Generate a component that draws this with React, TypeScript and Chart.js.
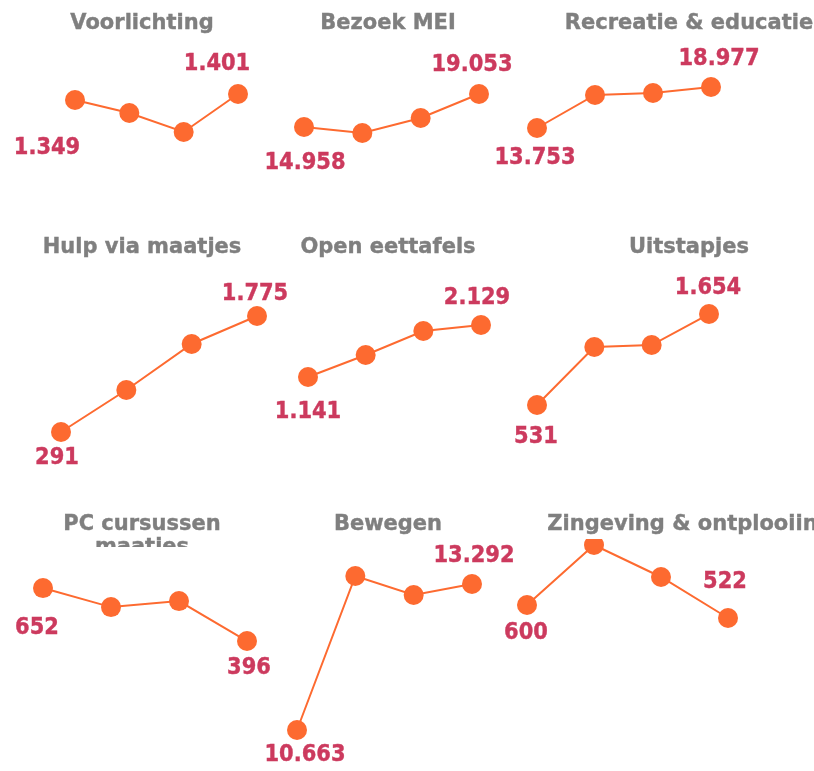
import React, { useEffect, useRef } from "react";
import { Chart, registerables } from "chart.js";

Chart.register(...registerables);

// ---- data ----
const categories = ["1", "2", "3", "4"];

const titles: string[][] = [
  ["Voorlichting"],
  ["Bezoek MEI"],
  ["Recreatie & educatie"],
  ["Hulp via maatjes"],
  ["Open eettafels"],
  ["Uitstapjes"],
  ["PC cursussen", "maatjes"],
  ["Bewegen"],
  ["Zingeving & ontplooiing"],
];

const voorlichting = [1349, 1236, 1072, 1401];
const bezoekMei = [14958, 14213, 16075, 19053];
const recreatieEducatie = [13753, 17957, 18212, 18977];
const hulpViaMaatjes = [291, 828, 1417, 1775];
const openEettafels = [1141, 1559, 2015, 2129];
const uitstapjes = [531, 1247, 1271, 1654];
const pcCursussen = [652, 560, 589, 396];
const bewegen = [10663, 13436, 13094, 13292];
const zingeving = [600, 960, 768, 522];

const series = [
  voorlichting,
  bezoekMei,
  recreatieEducatie,
  hulpViaMaatjes,
  openEettafels,
  uitstapjes,
  pcCursussen,
  bewegen,
  zingeving,
];

// per-panel value-axis ranges
const yMins = [742, 9622, 8402, -67, -436, -148, -82, 10483, -210];
const yMaxs = [1696, 23273, 22416, 2235, 2984, 2074, 889, 14102, 996];

// ---- layout (page pixels) ----
const PAGE_W = 814;
const PAGE_H = 771;
const rowPlotTop = [60, 280, 539];
const rowPlotBottom = [170, 460, 740];
const rowTitleY = [23, 247, 524];

const xFirst = [75, 304, 537, 61, 308, 537, 43, 297, 527];
const xLast = [238, 479, 711, 257, 481, 709, 247, 472, 728];
const titleX = [142, 388, 689, 142, 388, 689, 142, 388, 690];
const titleClipY = [225, 225, 225, 500, 500, 500, 547, 771, 771];

// label offsets from the first / last point
const firstOffset = [
  [-28, 48], [1, 36], [-2, 30],
  [-4, 26], [0, 35], [-1, 32],
  [-6, 40], [8, 25], [-1, 28],
];
const lastOffset = [
  [-21, -30], [-7, -29], [8, -28],
  [-2, -22], [-4, -27], [-1, -26],
  [2, 27], [2, -28], [-3, -36],
];

const ORANGE = "#fd6a30";
const LABEL = "#cc3a5e";
const TITLE = "#7f7f7f";
const FONT = "bold 21px 'DejaVu Sans', Verdana, sans-serif";

const fmt = (n: number) =>
  String(n).replace(/\B(?=(\d{3})+(?!\d))/g, ".");

function drawText(
  ctx: CanvasRenderingContext2D,
  text: string,
  x: number,
  y: number,
  color: string,
  sy: number
) {
  ctx.save();
  ctx.translate(x, y);
  ctx.scale(1, sy);
  ctx.font = FONT;
  ctx.textAlign = "center";
  ctx.textBaseline = "middle";
  ctx.fillStyle = color;
  ctx.strokeStyle = color;
  ctx.lineWidth = 0.4;
  ctx.fillText(text, 0, 0);
  ctx.strokeText(text, 0, 0);
  ctx.restore();
}

function Panel({ idx }: { idx: number }) {
  const ref = useRef<HTMLCanvasElement | null>(null);
  const row = Math.floor(idx / 3);

  useEffect(() => {
    if (!ref.current) return;
    const data = series[idx];
    const textPlugin = {
      id: "panelText",
      afterDatasetsDraw(chart: any) {
        const ctx = chart.ctx as CanvasRenderingContext2D;
        const meta = chart.getDatasetMeta(0);
        const p0 = meta.data[0];
        const pN = meta.data[meta.data.length - 1];
        drawText(ctx, fmt(data[0]), p0.x + firstOffset[idx][0], p0.y + firstOffset[idx][1], LABEL, 1.08);
        drawText(
          ctx,
          fmt(data[data.length - 1]),
          pN.x + lastOffset[idx][0],
          pN.y + lastOffset[idx][1],
          LABEL,
          1.08
        );

        ctx.save();
        ctx.beginPath();
        ctx.rect(0, rowTitleY[row] - 30, chart.width, titleClipY[idx] - (rowTitleY[row] - 30));
        ctx.clip();
        titles[idx].forEach((line, i) => {
          drawText(ctx, line, titleX[idx], rowTitleY[row] + i * 23, TITLE, 1.03);
        });
        ctx.restore();
      },
    };

    const chart = new Chart(ref.current, {
      type: "line",
      data: {
        labels: categories,
        datasets: [
          {
            data,
            borderColor: ORANGE,
            backgroundColor: ORANGE,
            borderWidth: 2,
            pointRadius: 10,
            pointBackgroundColor: ORANGE,
            pointBorderColor: ORANGE,
            pointBorderWidth: 0,
            tension: 0,
            fill: false,
            clip: { left: false, right: false, top: 0, bottom: false } as any,
          },
        ],
      },
      options: {
        responsive: false,
        animation: false,
        devicePixelRatio: 1,
        layout: {
          padding: {
            left: xFirst[idx],
            right: PAGE_W - xLast[idx],
            top: rowPlotTop[row],
            bottom: PAGE_H - rowPlotBottom[row],
          },
        },
        plugins: {
          legend: { display: false },
          title: { display: false },
          tooltip: { enabled: false },
        },
        scales: {
          x: { type: "category", display: false, offset: false },
          y: { display: false, min: yMins[idx], max: yMaxs[idx] },
        },
      },
      plugins: [textPlugin],
    });
    return () => chart.destroy();
  }, [idx]);

  return (
    <canvas
      ref={ref}
      width={PAGE_W}
      height={PAGE_H}
      style={{ position: "absolute", left: 0, top: 0, width: PAGE_W, height: PAGE_H }}
    />
  );
}

export default function App() {
  return (
    <div
      style={{
        position: "absolute",
        left: 0,
        top: 0,
        width: PAGE_W,
        height: PAGE_H,
        overflow: "hidden",
        background: "#ffffff",
      }}
    >
      {series.map((_, i) => (
        <Panel key={i} idx={i} />
      ))}
    </div>
  );
}
